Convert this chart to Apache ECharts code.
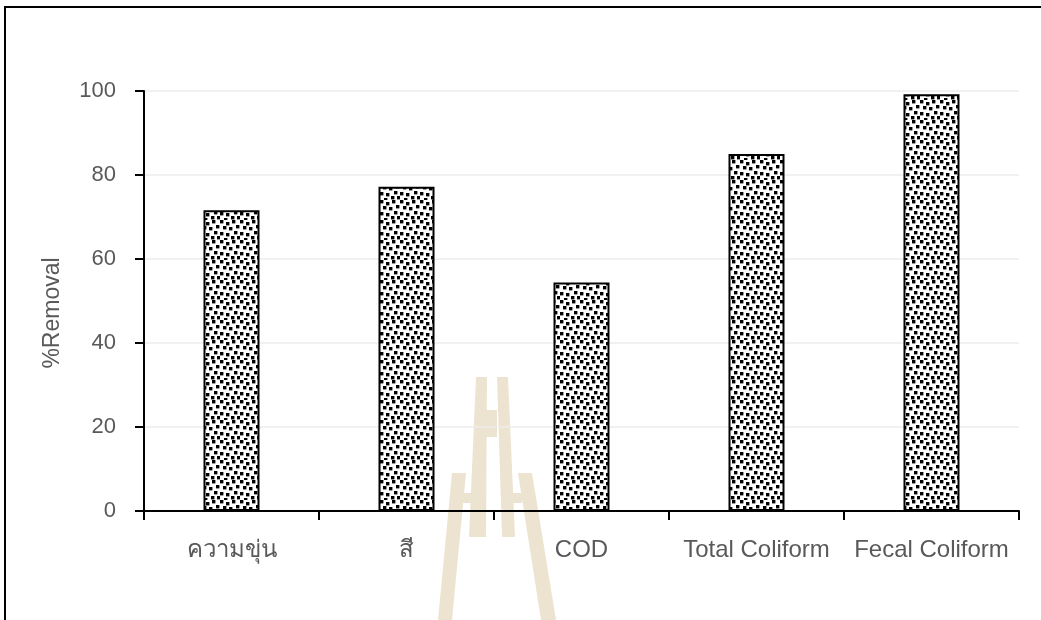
<!DOCTYPE html>
<html>
<head>
<meta charset="utf-8">
<style>
  html, body { margin: 0; padding: 0; background: #ffffff; }
  #chart { width: 1041px; height: 620px; }
</style>
<script src="https://cdn.jsdelivr.net/npm/echarts@6/dist/echarts.min.js"></script>
</head>
<body>
<div id="chart"></div>
<script>
// Removal efficiency per water-quality parameter
const categories = ['ความขุ่น', 'สี', 'COD', 'Total Coliform', 'Fecal Coliform'];
const removal = [71.6, 77.2, 54.4, 85.0, 99.2];
const yTicks = { min: 0, max: 100, step: 20 };
const yName = '%Removal';

const FONT = '"Liberation Sans", "Noto Sans", "DejaVu Sans", sans-serif';
const TEXT = '#595959';

// Stippled fill: small black squares scattered on a white tile
function stipple() {
  const s = 20;
  const c = document.createElement('canvas');
  c.width = s; c.height = s;
  const g = c.getContext('2d');
  g.fillStyle = '#ffffff';
  g.fillRect(0, 0, s, s);
  g.fillStyle = '#000000';
  const dots = [[0,0],[6,2],[12,0],[16,5],[3,6],[9,7],[14,11],[0,12],[6,13],[11,16],[17,16],[4,18]];
  dots.forEach(([x, y]) => g.fillRect(x, y, 3.4, 3.4));
  return c;
}

// Emblem printed faintly behind the plot
const EMBLEM = '#EDE3D1';
function poly(points) {
  return { type: 'polygon', z: -10, silent: true, shape: { points }, style: { fill: EMBLEM } };
}
const emblem = [
  poly([[476,377],[487,377],[486,537],[469,537]]),
  poly([[497,377],[508,377],[515,537],[502,537]]),
  poly([[486,410],[497,410],[497,437],[486,437]]),
  poly([[452,473],[466,473],[452,620],[438,620]]),
  poly([[518,473],[532,473],[556,620],[541,620]]),
  poly([[462,493],[478,493],[478,503],[462,503]]),
  poly([[506,493],[522,493],[522,503],[506,503]])
];

const chart = echarts.init(document.getElementById('chart'), null, { renderer: 'canvas' });
chart.setOption({
  backgroundColor: '#ffffff',
  animation: false,
  textStyle: { fontFamily: FONT },
  grid: { left: 144, right: 22, top: 91, bottom: 109, containLabel: false },
  xAxis: {
    type: 'category',
    data: categories,
    boundaryGap: true,
    axisLine: { show: true, lineStyle: { color: '#000000', width: 2 } },
    axisTick: { show: true, length: 9, lineStyle: { color: '#000000', width: 2 } },
    axisLabel: { color: TEXT, fontSize: 24, fontFamily: FONT, margin: 27, interval: 0 },
    splitLine: { show: false }
  },
  yAxis: {
    type: 'value',
    min: yTicks.min,
    max: yTicks.max,
    interval: yTicks.step,
    name: yName,
    nameLocation: 'middle',
    nameGap: 80,
    nameRotate: 90,
    nameTextStyle: { color: TEXT, fontSize: 23, fontFamily: FONT, padding: [0, 24, 0, 0] },
    axisLine: { show: true, lineStyle: { color: '#000000', width: 2 } },
    axisTick: { show: true, length: 9, lineStyle: { color: '#000000', width: 2 } },
    axisLabel: { color: TEXT, fontSize: 22, fontFamily: FONT, margin: 28 },
    splitLine: { show: true, lineStyle: { color: '#ececec', width: 1.5 } }
  },
  series: [{
    type: 'bar',
    data: removal,
    barWidth: 56,
    z: 3,
    itemStyle: {
      color: { image: stipple(), repeat: 'repeat' },
      borderColor: '#000000',
      borderWidth: 2
    }
  }],
  graphic: {
    elements: [
      ...emblem,
      { type: 'line', silent: true, shape: { x1: 5, y1: 7, x2: 1041, y2: 7 }, style: { stroke: '#000000', lineWidth: 2 } },
      { type: 'line', silent: true, shape: { x1: 5, y1: 6, x2: 5, y2: 620 }, style: { stroke: '#000000', lineWidth: 2 } }
    ]
  }
});
</script>
</body>
</html>
